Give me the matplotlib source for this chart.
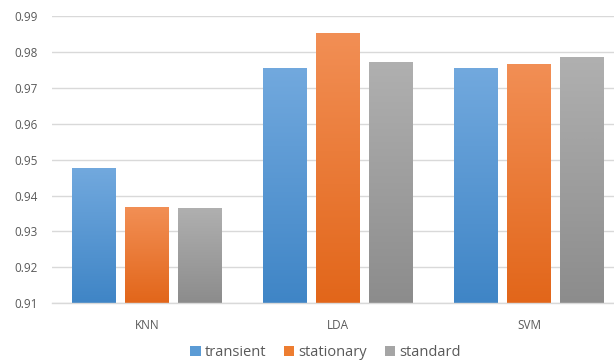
import matplotlib
matplotlib.use('Agg')
import matplotlib.pyplot as plt
import numpy as np
from matplotlib.colors import LinearSegmentedColormap
from matplotlib.patches import Patch

categories = ['KNN', 'LDA', 'SVM']
series_names = ['transient', 'stationary', 'standard']
transient = [0.9476, 0.9755, 0.9755]
stationary = [0.9367, 0.9854, 0.9767]
standard = [0.9365, 0.9771, 0.9787]
yticks = [0.91, 0.92, 0.93, 0.94, 0.95, 0.96, 0.97, 0.98, 0.99]
ytick_labels = ['0.91', '0.92', '0.93', '0.94', '0.95', '0.96', '0.97', '0.98', '0.99']

series_values = [transient, stationary, standard]
mid_colors = ['#5b9bd5', '#ed7d31', '#a5a5a5']
grad_colors = [('#3f85c6', '#72a9de'), ('#e2661a', '#f28f55'), ('#8c8c8c', '#b0b0b0')]

plt.rcParams['font.family'] = ['Open Sans', 'DejaVu Sans']

fig = plt.figure(figsize=(6.14, 3.62), dpi=100)
ax = fig.add_axes([51.5 / 614, (362 - 303.3) / 362, 573 / 614, (303.3 - 16) / 362])

ymin, ymax = 0.91, 0.99
x = np.arange(len(categories))
width = 0.226
step = 0.2775
grad = np.linspace(0, 1, 256).reshape(-1, 1)

for i, (vals, mc, gc) in enumerate(zip(series_values, mid_colors, grad_colors)):
    bottoms = [ymin] * len(vals)
    heights = [v - ymin for v in vals]
    bars = ax.bar(x + (i - 1) * step, heights, width, bottom=bottoms,
                  color=mc, zorder=3, label=series_names[i])
    cmap = LinearSegmentedColormap.from_list('g%d' % i, list(gc))
    for p in bars.patches:
        x0, y0 = p.get_x(), p.get_y()
        im = ax.imshow(grad, cmap=cmap, origin='lower', aspect='auto',
                       extent=(x0, x0 + p.get_width(), y0, y0 + p.get_height()),
                       zorder=4, interpolation='bilinear')
        im.set_clip_path(p)

ax.set_xlim(-0.5, len(categories) - 0.5)
ax.set_ylim(ymin, ymax)
ax.set_yticks(yticks)
ax.set_yticklabels(ytick_labels)
ax.set_xticks(x)
ax.set_xticklabels(categories)
ax.tick_params(axis='both', length=0, colors='#595959', labelsize=8.5)
ax.tick_params(axis='y', pad=10)
ax.tick_params(axis='x', pad=11)
for s in ['top', 'right', 'left']:
    ax.spines[s].set_visible(False)
ax.spines['bottom'].set_color('#d9d9d9')
ax.spines['bottom'].set_linewidth(1.0)
ax.spines['bottom'].set_zorder(5)
ax.yaxis.grid(True, color='#d9d9d9', linewidth=1.0, zorder=0)
ax.set_axisbelow(True)

handles = [Patch(facecolor=c, edgecolor='none') for c in mid_colors]
fig.legend(handles, series_names, loc='center', bbox_to_anchor=(325.5 / 614, 1 - 352.7 / 362),
           ncol=3, frameon=False, fontsize=10.5, handlelength=0.7, handleheight=0.7,
           handletextpad=0.3, columnspacing=1.2, labelcolor='#595959')

fig.savefig('out.png', dpi=100)
